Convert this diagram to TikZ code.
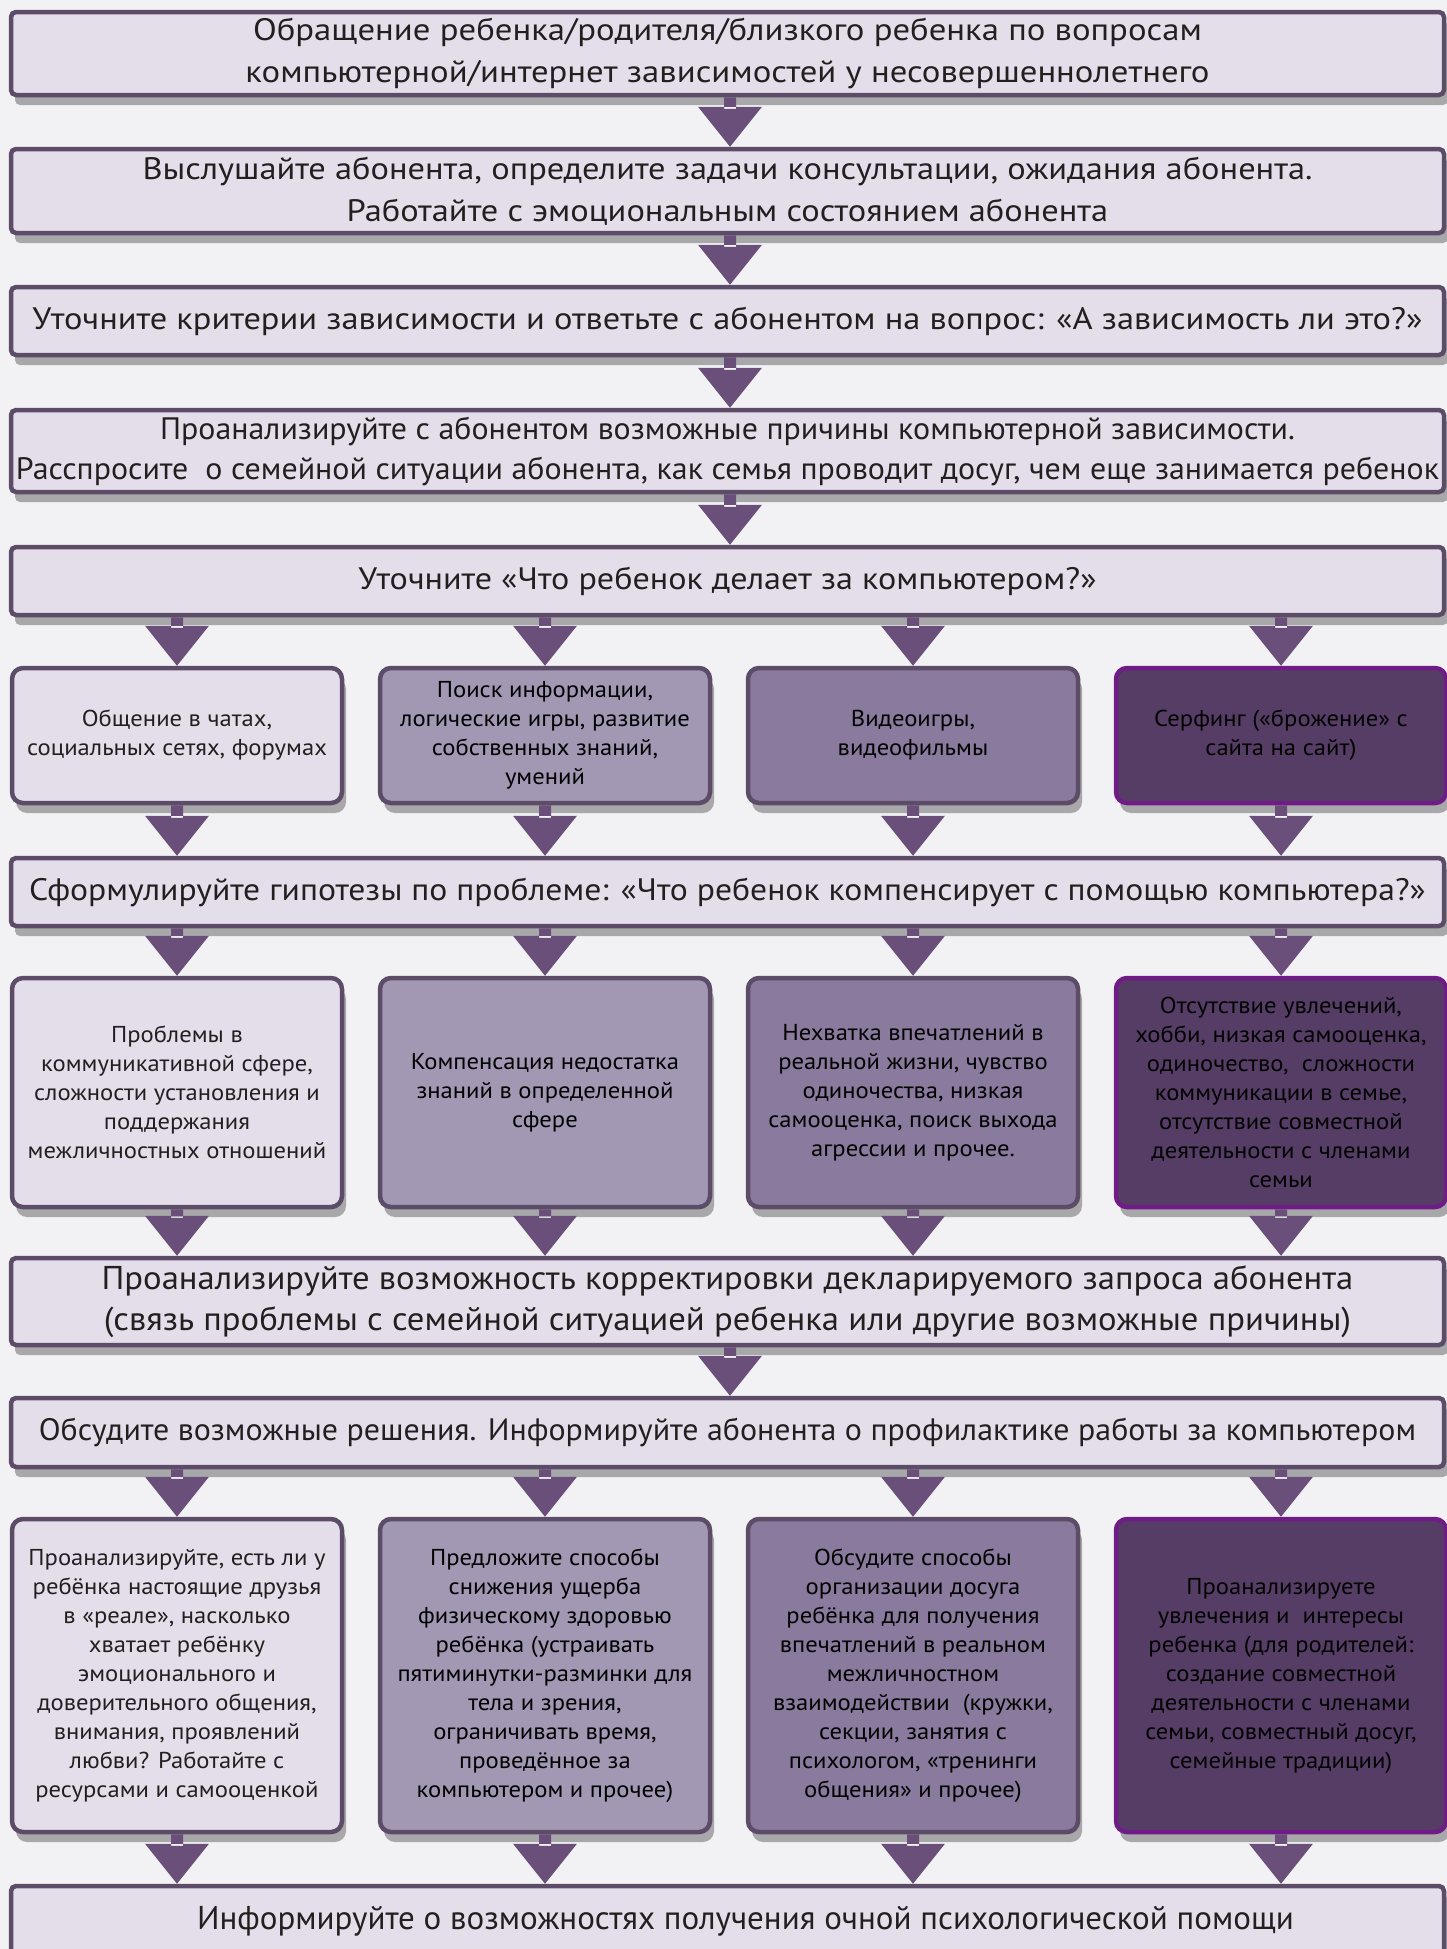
\documentclass[tikz,border=0pt]{standalone}
\usepackage{fontspec}
\setmainfont{PT Sans}
\usetikzlibrary{shadows,calc}
\definecolor{bgc}{RGB}{242,242,244}
\definecolor{barfill}{RGB}{228,222,234}
\definecolor{borderc}{RGB}{93,76,103}
\definecolor{ctwofill}{RGB}{163,152,180}
\definecolor{cthreefill}{RGB}{137,122,158}
\definecolor{cfourfill}{RGB}{86,61,102}
\definecolor{cfourborder}{RGB}{112,28,134}
\definecolor{arrowc}{RGB}{106,79,122}
\definecolor{txt}{RGB}{35,31,32}
\newcommand\barfnt[3]{\fontsize{#1}{#2}\selectfont\addfontfeatures{FakeStretch=#3}}
\newcommand\flarr[3]{%
  \fill[arrowc] let \p1=(#1.south), \p2=(#2.north), \p3=(#3) in
    (\x3-6pt,\y1) rectangle (\x3+6pt,\y2+38pt)
    (\x3-32pt,\y2+40pt) -- (\x3+32pt,\y2+40pt) -- (\x3,\y2) -- cycle;}
\begin{document}
\begin{tikzpicture}[x=1pt,y=-1pt,
  shad/.style={drop shadow={shadow xshift=4pt,shadow yshift=-10pt,opacity=.3,fill=black}},
  bar/.style={shad,draw=borderc,line width=4.5pt,fill=barfill,rounded corners=5pt,
    minimum width=1433pt,align=center,inner sep=0pt,text=txt,
    font=\barfnt{31}{42}{1.1}},
  box/.style={shad,draw=borderc,line width=4.5pt,rounded corners=11pt,
    minimum width=330pt,align=center,inner sep=0pt,
    font=\barfnt{23}{29}{1.07}},
  cone/.style={box,fill=barfill,text=txt},
  ctwo/.style={box,fill=ctwofill,text={RGB:red,50;green,45;blue,60}},
  cthree/.style={box,fill=cthreefill,text={RGB:red,42;green,36;blue,52}},
  cfour/.style={box,fill=cfourfill,draw=cfourborder,text={RGB:red,242;green,238;blue,246}}]
\fill[bgc] (0,0) rectangle (1447,1949);
\useasboundingbox (0,0) rectangle (1447,1949);

\node[bar,minimum height=83pt,font=\barfnt{31}{42}{1.12}] (b1) at (727.5,53.5)
  {Обращение ребенка/родителя/близкого ребенка по вопросам\\компьютерной/интернет зависимостей у несовершеннолетнего};
\node[bar,minimum height=84pt,font=\barfnt{31}{42}{1.11}] (b2) at (727.5,191)
  {Выслушайте абонента, определите задачи консультации, ожидания абонента.\\Работайте с эмоциональным состоянием абонента};
\node[bar,minimum height=68pt,font=\barfnt{31}{42}{1.11}] (b3) at (727.5,321)
  {Уточните критерии зависимости и ответьте с абонентом на вопрос: «А зависимость ли это?»};
\node[bar,minimum height=82pt,font=\barfnt{31}{40}{1.03}] (b4) at (727.5,451)
  {Проанализируйте с абонентом возможные причины компьютерной зависимости.\\Расспросите\ \ о семейной ситуации абонента, как семья проводит досуг, чем еще занимается ребенок};
\node[bar,minimum height=68pt,font=\barfnt{31}{42}{1.1}] (b5) at (727.5,581)
  {Уточните «Что ребенок делает за компьютером?»};

\node[cone,minimum height=135pt] (a1) at (177,735.5) {Общение в чатах,\\социальных сетях, форумах};
\node[ctwo,minimum height=135pt] (a2) at (545,735.5) {Поиск информации,\\логические игры, развитие\\собственных знаний,\\умений};
\node[cthree,minimum height=135pt] (a3) at (913,735.5) {Видеоигры,\\видеофильмы};
\node[cfour,minimum height=135pt] (a4) at (1281,735.5) {Серфинг («брожение» с\\сайта на сайт)};

\node[bar,minimum height=68pt,font=\barfnt{31}{42}{1.085}] (b6) at (727.5,892)
  {Сформулируйте гипотезы по проблеме: «Что ребенок компенсирует с помощью компьютера?»};

\node[cone,minimum height=229pt] (h1) at (177,1092.5) {Проблемы в\\коммуникативной сфере,\\сложности установления и\\поддержания\\межличностных отношений};
\node[ctwo,minimum height=229pt] (h2) at (545,1092.5) {Компенсация недостатка\\знаний в определенной\\сфере};
\node[cthree,minimum height=229pt] (h3) at (913,1092.5) {Нехватка впечатлений в\\реальной жизни, чувство\\одиночества, низкая\\самооценка, поиск выхода\\агрессии и прочее.};
\node[cfour,minimum height=229pt] (h4) at (1281,1092.5) {Отсутствие увлечений,\\хобби, низкая самооценка,\\одиночество,\ \ сложности\\коммуникации в семье,\\отсутствие совместной\\деятельности с членами\\семьи};

\node[bar,minimum height=87pt,font=\barfnt{33}{41}{1.05}] (b7) at (727.5,1301.5)
  {Проанализируйте возможность корректировки декларируемого запроса абонента\\(связь проблемы с семейной ситуацией ребенка или другие возможные причины)};
\node[bar,minimum height=69pt,font=\barfnt{31}{42}{1.03}] (b8) at (727.5,1432.5)
  {Обсудите возможные решения. Информируйте абонента о профилактике работы за компьютером};

\node[cone,minimum height=313pt] (s1) at (177,1675.5) {Проанализируйте, есть ли у\\ребёнка настоящие друзья\\в «реале», насколько\\хватает ребёнку\\эмоционального и\\доверительного общения,\\внимания, проявлений\\любви? Работайте с\\ресурсами и самооценкой};
\node[ctwo,minimum height=313pt] (s2) at (545,1675.5) {Предложите способы\\снижения ущерба\\физическому здоровью\\ребёнка (устраивать\\пятиминутки-разминки для\\тела и зрения,\\ограничивать время,\\проведённое за\\компьютером и прочее)};
\node[cthree,minimum height=313pt] (s3) at (913,1675.5) {Обсудите способы\\организации досуга\\ребёнка для получения\\впечатлений в реальном\\межличностном\\взаимодействии\ \ (кружки,\\секции, занятия с\\психологом, «тренинги\\общения» и прочее)};
\node[cfour,minimum height=313pt] (s4) at (1281,1675.5) {Проанализируете\\увлечения и\ \ интересы\\ребенка (для родителей:\\создание совместной\\деятельности с членами\\семьи, совместный досуг,\\семейные традиции)};

\node[bar,minimum height=70pt,font=\barfnt{33}{41}{1.0}] (b9) at (727.5,1921)
  {\hspace*{36pt}Информируйте о возможностях получения очной психологической помощи};

\coordinate (mid) at (730,0);
\flarr{b1}{b2}{mid}
\flarr{b2}{b3}{mid}
\flarr{b3}{b4}{mid}
\flarr{b4}{b5}{mid}
\foreach \i in {1,...,4}{\flarr{b5}{a\i}{a\i}\flarr{a\i}{b6}{a\i}}
\foreach \i in {1,...,4}{\flarr{b6}{h\i}{h\i}\flarr{h\i}{b7}{h\i}}
\flarr{b7}{b8}{mid}
\foreach \i in {1,...,4}{\flarr{b8}{s\i}{s\i}\flarr{s\i}{b9}{s\i}}
\end{tikzpicture}
\end{document}
